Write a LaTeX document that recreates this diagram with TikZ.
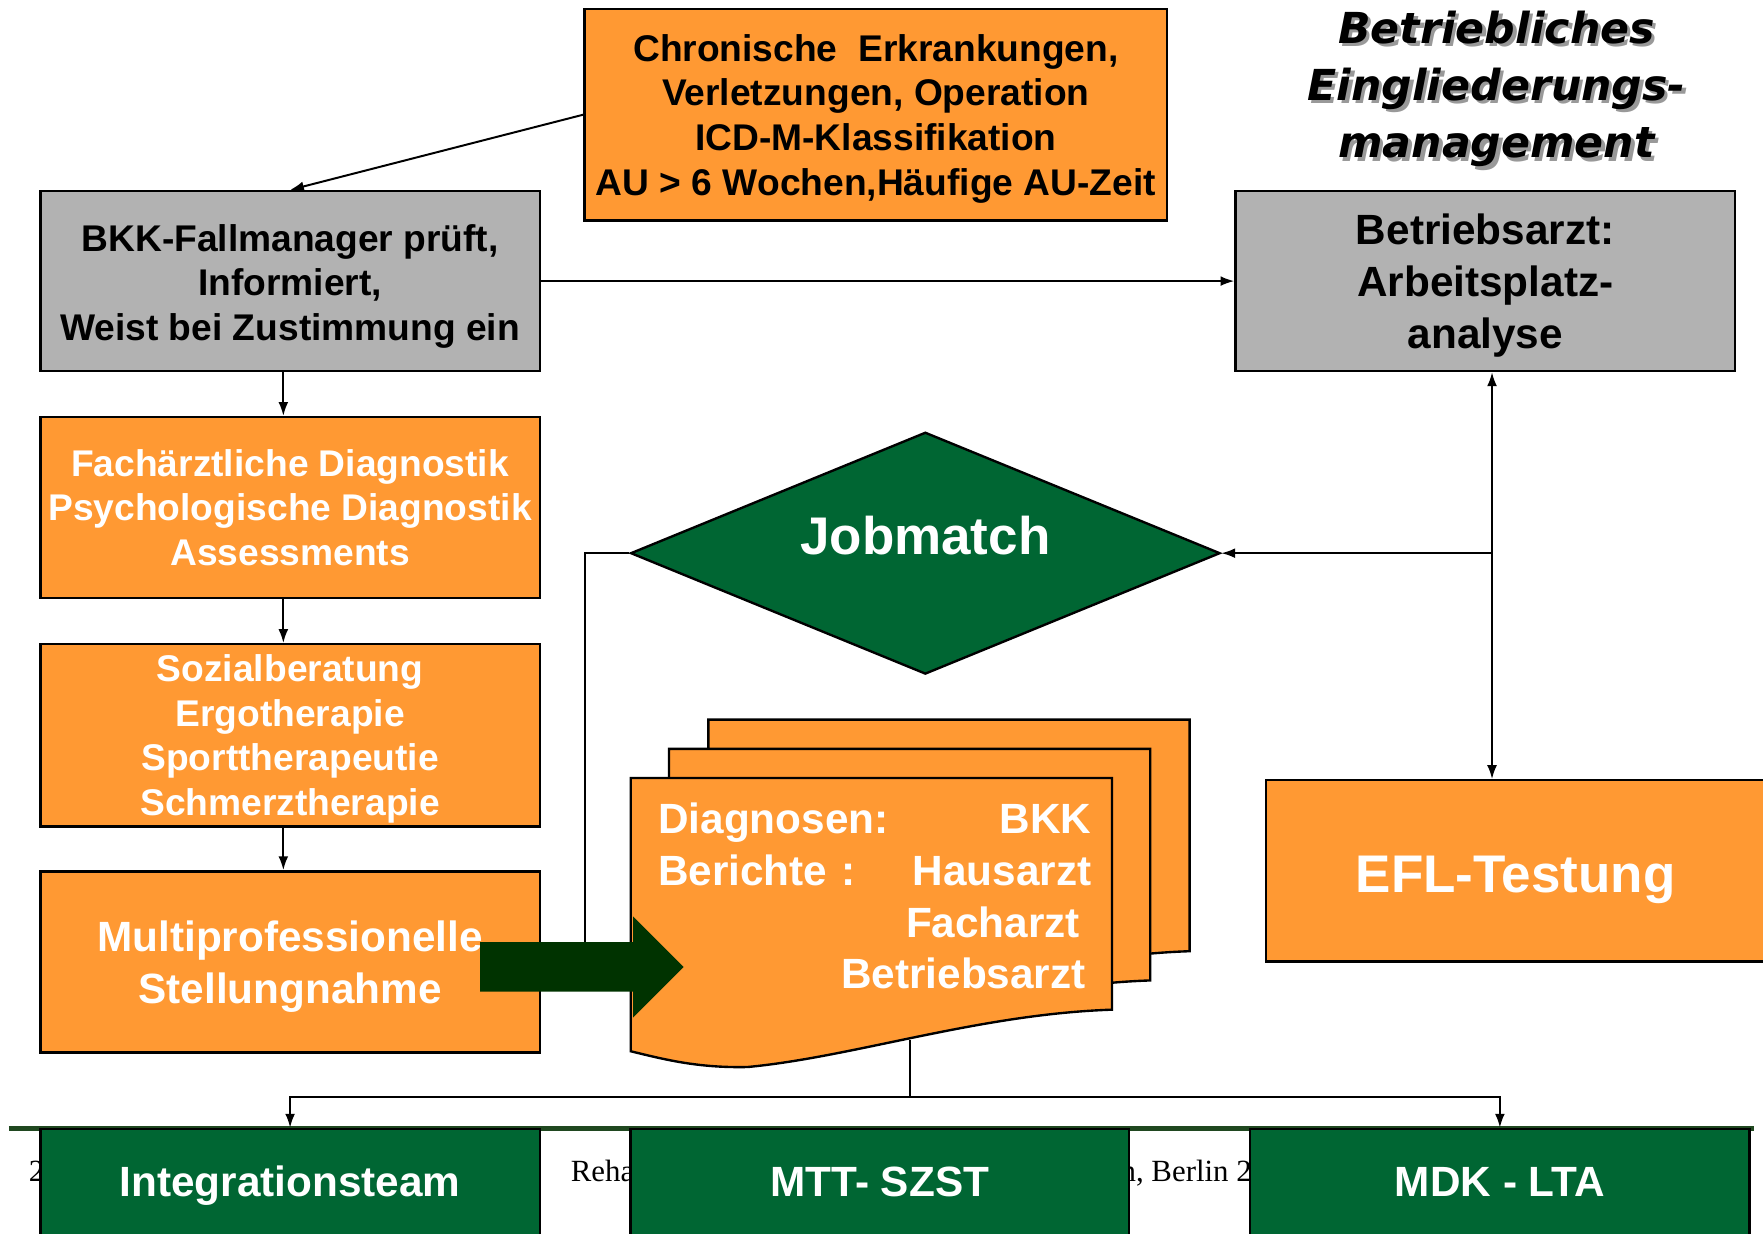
\documentclass[tikz,border=0pt]{standalone}
\usepackage{fontspec}
\setmainfont{Liberation Sans}
\newfontfamily\titlefont{DejaVu Sans}
\newfontfamily\footfont{Liberation Serif}
\usetikzlibrary{shapes.geometric,arrows.meta,positioning,calc}

\definecolor{ebmorange}{RGB}{255,153,51}
\definecolor{ebmgray}{RGB}{178,178,178}
\definecolor{ebmgreen}{RGB}{0,102,51}
\definecolor{ebmdark}{RGB}{0,51,0}
\definecolor{ebmline}{RGB}{32,72,32}

\newcommand{\docline}[2]{\makebox[\linewidth]{#1\hfill#2}}
\newcommand{\lift}[1]{\rule{0pt}{#1}}

\begin{document}
\begin{tikzpicture}[x=0.01cm, y=-0.01cm, >={Latex[length=3.5pt,width=2.5pt]},
    box/.style={draw=black, line width=0.6pt, inner sep=0pt, minimum width=4.44cm, align=center},
    orangebox/.style={box, fill=ebmorange, text=white},
    graybox/.style={box, fill=ebmgray, text=black},
    greenbox/.style={box, fill=ebmgreen, text=white, text height=8pt, text depth=2pt},
    smalltext/.style={font=\fontsize{9.4}{11.3}\selectfont\bfseries},
    largetext/.style={font=\fontsize{10.7}{13.1}\selectfont\bfseries},
    bigtext/.style={font=\fontsize{13.4}{15}\selectfont\bfseries},
    titletext/.style={align=center, inner sep=0pt, font=\titlefont\fontsize{10.8}{14.5}\selectfont\bfseries\itshape},
    foottext/.style={anchor=base west, inner sep=0pt, font=\footfont\fontsize{7.8}{9}\selectfont},
    link/.style={line width=0.5pt}]

    \useasboundingbox (0,0) rectangle (1568,1097);
    \clip (0,0) rectangle (1568,1097);

    % Footer line and text (mostly hidden by the green boxes)
    \draw[ebmline, line width=1.2pt] (8,1004) -- (1560,1004);
    \node (pagenum) [foottext] at (25,1051) {2};
    \node (event) [foottext] at (507,1051) {Reha};
    \node (venue) [foottext] at (996,1051) {n, Berlin 2};

    % Title
    \node (titleshadow) [titletext, text=black!40] at (1334,82) {Betriebliches\\Eingliederungs-\\management};
    \node (title) [titletext] at (1331,79) {Betriebliches\\Eingliederungs-\\management};

    % Trigger and case manager
    \node (trigger) [orangebox, smalltext, text=black, minimum width=5.18cm, minimum height=1.88cm] at (779,102)
        {\lift{8.9pt}Chronische~ Erkrankungen,\\Verletzungen, Operation\\ICD-M-Klassifikation\\AU > 6 Wochen,Häufige AU-Zeit};
    \node (bkk) [graybox, smalltext, minimum height=1.6cm] at (258,250)
        {\lift{9.4pt}BKK-Fallmanager prüft,\\Informiert,\\Weist bei Zustimmung ein};
    \node (arzt) [graybox, largetext, minimum height=1.6cm] at (1321,250)
        {\lift{10.1pt}Betriebsarzt:\\Arbeitsplatz-\\analyse};

    % Left column
    \node (fach) [orangebox, smalltext, minimum height=1.61cm] at (258,451.5)
        {Fachärztliche Diagnostik\\Psychologische Diagnostik\\Assessments};
    \node (sozial) [orangebox, smalltext, minimum height=1.62cm] at (258,654)
        {\lift{8.6pt}Sozialberatung\\Ergotherapie\\Sporttherapeutie\\Schmerztherapie};
    \node (multi) [orangebox, largetext, minimum height=1.61cm] at (258,855.5)
        {\lift{10.1pt}Multiprofessionelle\\Stellungnahme};

    % Jobmatch
    \node (jm) [diamond, draw=black, line width=0.6pt, fill=ebmgreen, inner sep=0pt,
        minimum width=5.24cm, minimum height=2.15cm] at (823,492) {};
    \node (jmtext) [bigtext, text=white] at (823,476) {Jobmatch};

    % EFL
    \node (efl) [orangebox, bigtext, minimum height=1.61cm, text height=13.8pt, text depth=2.8pt] at (1348,774.5) {EFL-Testung};

    % Connectors
    \coordinate (shafttop) at (520,838);
    \draw[->, link] (trigger.west) -- (bkk.north);
    \draw[->, link] (bkk.east) -- (arzt.west);
    \foreach \a/\b in {bkk/fach, fach/sozial, sozial/multi}
        \draw[->, link] ([xshift=-0.06cm]\a.south) -- ([xshift=-0.06cm]\b.north);
    \draw[<->, link] ([xshift=0.06cm]arzt.south) -- ([xshift=0.06cm]arzt.south |- efl.north);
    \draw[->, link] ([xshift=0.06cm]arzt.south |- jm.east) -- (jm.east);
    \draw[link] (jm.west) -| (shafttop);

    % Report stack
    \foreach \dx/\dy in {69/-52, 34/-26, 0/0} {
        \draw[fill=ebmorange, line width=0.6pt, shift={(\dx,\dy)}]
            (561,692) -- (989,692) -- (989,898)
            .. controls (870,902) and (760,940) .. (665,949)
            .. controls (620,950) and (590,942) .. (561,935) -- cycle;
    }
    \node (reports) [largetext, text=white, text width=3.85cm, inner sep=0pt] at (778,797)
        {\docline{Diagnosen:}{BKK}\\\docline{Berichte :}{Hausarzt}\\\docline{}{Facharzt\hspace{0.1cm}}\\\docline{}{Betriebsarzt\hspace{0.05cm}}};

    % Big arrow into the reports
    \fill[ebmdark] (427,838) -- (563,838) -- (563,815) -- (608,860) -- (563,905) -- (563,882) -- (427,882) -- cycle;

    % Bottom row
    \node (integ) [greenbox, largetext, minimum height=1cm] at (258,1054) {Integrationsteam};
    \node (mtt) [greenbox, largetext, minimum width=4.43cm, minimum height=1cm] at (782.5,1054) {MTT- SZST};
    \node (mdk) [greenbox, largetext, minimum height=1cm] at (1334,1054) {MDK - LTA};

    \coordinate (docfoot) at (809,925);
    \coordinate (split) at (809,976);
    \draw[link] (docfoot) -- (split);
    \draw[->, link] (split) -| (integ.north);
    \draw[->, link] (split) -| (mdk.north);
\end{tikzpicture}
\end{document}
